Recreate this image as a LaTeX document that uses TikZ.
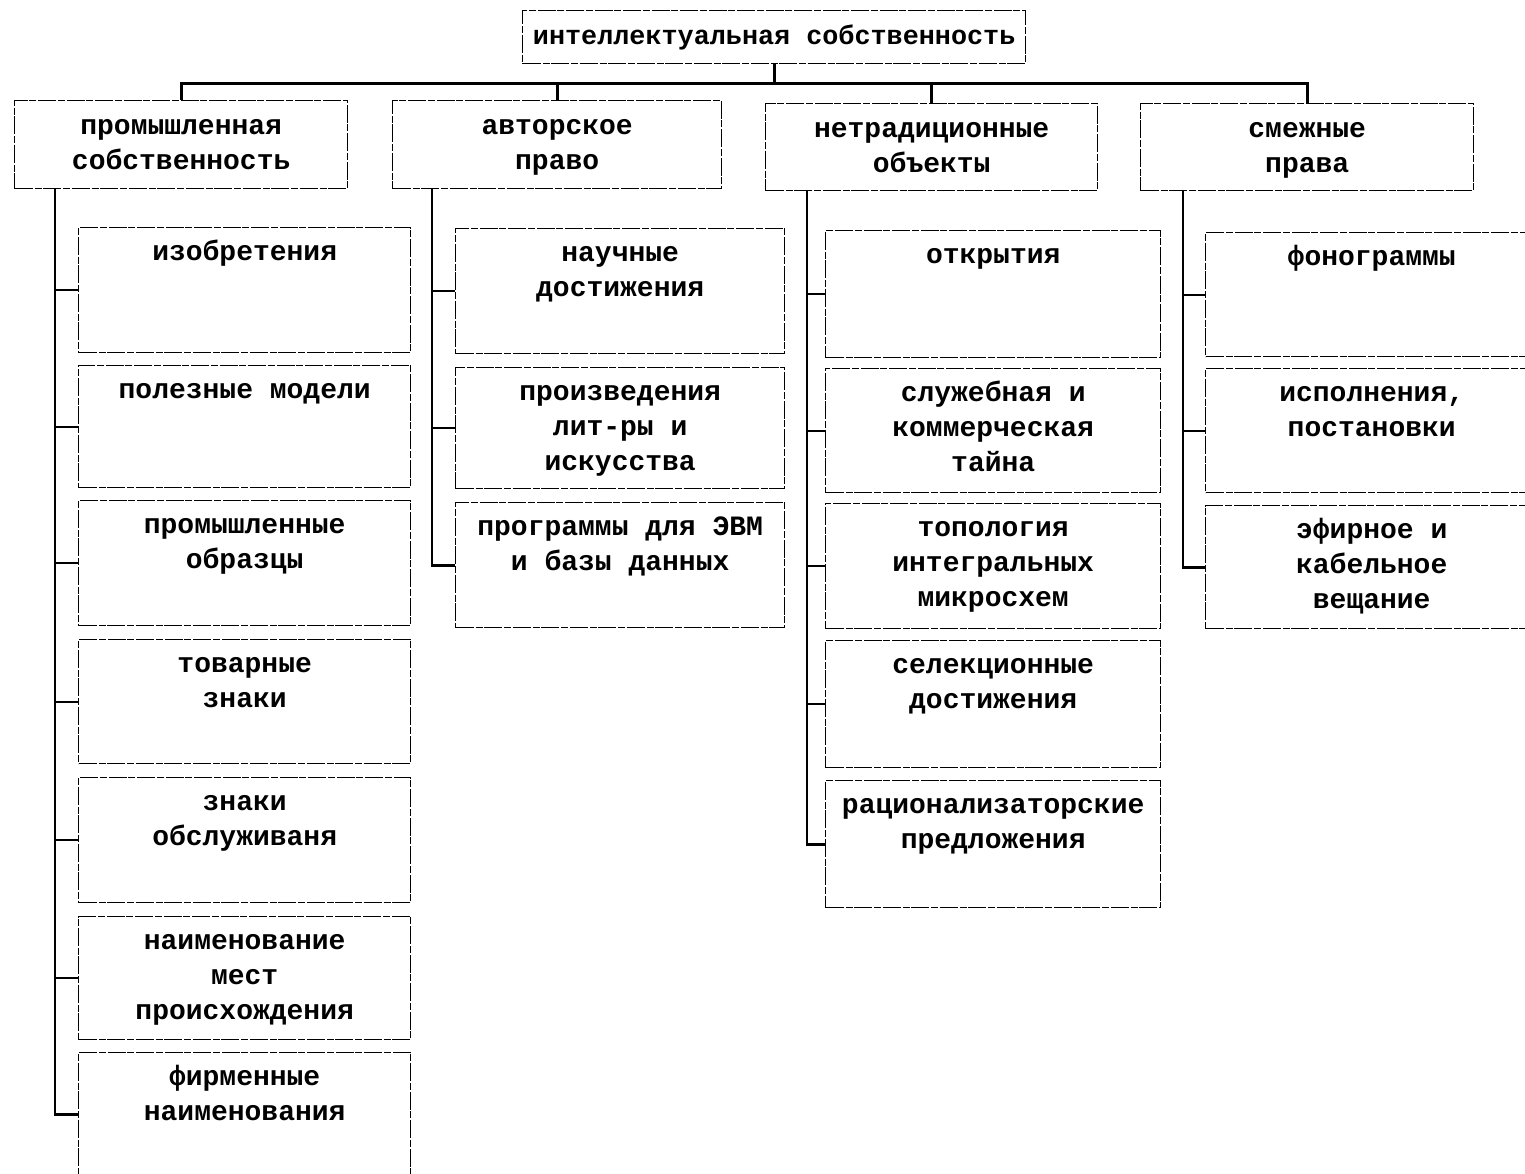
\documentclass[tikz,border=0pt]{standalone}
\usepackage{fontspec}
\setmainfont{Liberation Mono}
\newcommand\bx[7]{% name, x, y, w, h, first-baseline offset, text
  \node[box] (#1) at (#2,#3) {\begin{minipage}[t][#5pt][t]{#4pt}\centering\rule{0pt}{#6pt}#7\end{minipage}};}
\begin{document}
\begin{tikzpicture}[x=1pt,y=-1pt,
  every node/.style={font=\fontsize{28}{35}\selectfont\bfseries},
  box/.style={draw=black, line width=1.4pt, dash pattern=on 18pt off 2pt on 7pt off 1.5pt,
              inner sep=0pt, anchor=north west, fill=white},
  bus/.style={line width=3pt},
  spine/.style={line width=2.6pt},
  tick/.style={line width=2pt}]
\useasboundingbox (0,0) rectangle (1525,1173);
\clip (0,0) rectangle (1525,1173);

% top
\bx{top}{522}{10}{503}{53}{34}{\fontsize{26.8}{35}\selectfont интеллектуальная собственность}

% headers
\bx{h1}{14}{100}{333}{88}{34}{промышленная\\собственность}
\bx{h2}{392}{100}{329}{88}{34}{авторское\\право}
\bx{h3}{765}{103}{332}{87}{34}{нетрадиционные\\объекты}
\bx{h4}{1140}{103}{333}{87}{34}{смежные\\права}

% column 1
\bx{a1}{78}{227}{332}{125}{33}{изобретения}
\bx{a2}{78}{365}{332}{122}{33}{полезные модели}
\bx{a3}{78}{500}{332}{125}{33}{промышленные\\образцы}
\bx{a4}{78}{639}{332}{124}{33}{товарные\\знаки}
\bx{a5}{78}{777}{332}{125}{33}{знаки\\обслуживаня}
\bx{a6}{78}{916}{332}{123}{33}{наименование\\мест\\происхождения}
\bx{a7}{78}{1052}{332}{124}{33}{фирменные\\наименования}

% column 2
\bx{p1}{455}{228}{329}{125}{33}{научные\\достижения}
\bx{p2}{455}{367}{329}{121}{33}{произведения\\лит-ры и\\искусства}
\bx{p3}{455}{502}{329}{125}{33}{программы для ЭВМ\\и базы данных}

% column 3
\bx{n1}{825}{230}{335}{127}{33}{открытия}
\bx{n2}{825}{368}{335}{124}{33}{служебная и\\коммерческая\\тайна}
\bx{n3}{825}{503}{335}{125}{33}{топология\\интегральных\\микросхем}
\bx{n4}{825}{640}{335}{127}{33}{селекционные\\достижения}
\bx{n5}{825}{780}{335}{127}{33}{рационализаторские\\предложения}

% column 4
\bx{r1}{1205}{232}{332}{124}{33}{фонограммы}
\bx{r2}{1205}{368}{332}{124}{33}{исполнения,\\постановки}
\bx{r3}{1205}{505}{332}{123}{33}{эфирное и\\кабельное\\вещание}

% bus
\draw[bus] (top.south) -- ++(0,19) coordinate (bj);
\draw[bus] (h1.north) |- (bj) -| (h4.north);
\draw[bus] (h2.north) -- (h2.north |- bj);
\draw[bus] (h3.north) -- (h3.north |- bj);

% column spines
\coordinate (s1) at ([xshift=41pt]h1.south west);
\coordinate (s2) at ([xshift=40pt]h2.south west);
\coordinate (s3) at ([xshift=42pt]h3.south west);
\coordinate (s4) at ([xshift=43pt]h4.south west);
\draw[spine] (s1) |- (a7.west);
\draw[spine] (s2) |- (p3.west);
\draw[spine] (s3) |- (n5.west);
\draw[spine] (s4) |- (r3.west);
\foreach \n in {a1,a2,a3,a4,a5,a6} \draw[tick] (\n.west) -- (\n.west -| s1);
\foreach \n in {p1,p2} \draw[tick] (\n.west) -- (\n.west -| s2);
\foreach \n in {n1,n2,n3,n4} \draw[tick] (\n.west) -- (\n.west -| s3);
\foreach \n in {r1,r2} \draw[tick] (\n.west) -- (\n.west -| s4);
\end{tikzpicture}
\end{document}
